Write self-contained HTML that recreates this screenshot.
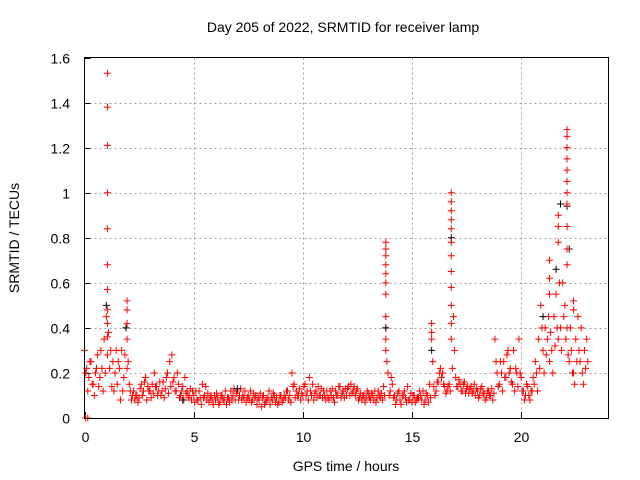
<!DOCTYPE html>
<html><head><meta charset="utf-8"><style>
body{margin:0;background:#fff;}
svg{display:block;font-family:"Liberation Sans",Arial,sans-serif;}
</style></head><body>
<svg id="chart" width="640" height="480" viewBox="0 0 640 480">
<rect x="0" y="0" width="640" height="480" fill="#fff"/>
<text x="343" y="32" font-size="14" text-anchor="middle">Day 205 of 2022, SRMTID for receiver lamp</text>
<text x="346" y="471" font-size="14" text-anchor="middle">GPS time / hours</text>
<text transform="translate(19,238) rotate(-90)" font-size="14" text-anchor="middle">SRMTID / TECUs</text>
<g id="grid"></g>
<g id="ticks"></g>
<g id="marks"></g>
<rect x="84.5" y="57.5" width="524" height="361" fill="none" stroke="#000" stroke-width="1"/>
</svg>
<script>
const xTicks=[0,5,10,15,20];
const yTicks=[0,0.2,0.4,0.6,0.8,1,1.2,1.4,1.6];
const yTickLabels=["0","0.2","0.4","0.6","0.8","1","1.2","1.4","1.6"];
const baseStart=0, baseStep=0.1;
const baseA=[.30,.22,.18,.25,.15,.20,.28,.18,.22,.35,
.45,.38,.30,.25,.20,.15,.22,.30,.18,.40,
.25,.12,.10,.08,.10,.09,.15,.12,.18,.14,
.12,.15,.20,.14,.12,.10,.16,.13,.20,.25,
.28,.18,.12,.15,.10,.14,.18,.12,.10,.08,
.10,.12,.08,.09,.15,.10,.08,.07,.10,.06,
.08,.09,.07,.10,.08,.06,.09,.12,.10,.08,
.12,.10,.08,.09,.07,.10,.12,.08,.09,.06,
.08,.05,.10,.07,.09,.06,.08,.10,.09,.07,
.10,.08,.09,.12,.10,.20,.15,.12,.10,.08,
.10,.15,.12,.18,.10,.08,.12,.14,.10,.09,
.10,.12,.08,.10,.09,.12,.10,.14,.11,.09,
.10,.14,.15,.12,.10,.13,.09,.08,.10,.09,
.11,.08,.10,.12,.09,.10,.11,.14,.40,.20,
.12,.15,.10,.08,.12,.06,.10,.09,.14,.08,
.07,.10,.08,.09,.10,.12,.08,.10,.15,.35,
.14,.12,.16,.22,.20,.14,.12,.15,.35,.45,
.18,.14,.15,.12,.16,.13,.11,.14,.12,.10,
.12,.10,.14,.11,.09,.12,.10,.08,.35,.20,
.15,.20,.25,.18,.30,.22,.15,.12,.20,.35,
.18,.12,.10,.14,.08,.12,.15,.20,.35,.50,
.30,.40,.35,.25,.30,.45,.55,.35,.40,.60,
.50,.40,.25,.30,.20,.35,.45,.25,.20,.30,.35];
const baseB=[.20,.12,.25,.15,.10,.22,.14,.30,.12,.20,
.28,.22,.14,.12,.30,.25,.08,.12,.28,.22,
.15,.08,.12,.10,.07,.13,.10,.16,.08,.12,
.09,.11,.14,.10,.16,.12,.09,.18,.11,.14,
.16,.12,.20,.09,.12,.08,.11,.09,.13,.12,
.07,.08,.12,.06,.09,.14,.11,.09,.08,.10,
.11,.06,.10,.08,.12,.09,.07,.08,.13,.11,
.08,.13,.10,.12,.09,.08,.07,.11,.10,.09,
.11,.09,.06,.08,.12,.09,.11,.07,.06,.10,
.07,.10,.12,.08,.07,.14,.09,.10,.13,.11,
.14,.10,.08,.12,.15,.11,.09,.10,.13,.12,
.08,.09,.12,.13,.07,.10,.14,.09,.12,.13,
.13,.10,.11,.14,.12,.08,.11,.10,.07,.12,
.09,.11,.08,.07,.12,.09,.08,.10,.25,.10,
.18,.09,.06,.11,.08,.10,.12,.07,.08,.11,
.10,.07,.09,.12,.08,.06,.11,.07,.09,.25,
.10,.16,.20,.18,.15,.11,.14,.12,.22,.30,
.14,.17,.12,.15,.11,.14,.13,.11,.15,.13,
.09,.13,.11,.08,.12,.10,.13,.11,.25,.14,
.25,.12,.18,.28,.20,.16,.30,.22,.14,.20,
.12,.08,.15,.10,.12,.18,.25,.12,.22,.40,
.20,.28,.45,.38,.20,.32,.40,.60,.30,.45,
.35,.28,.40,.20,.15,.25,.30,.40,.15,.22,.25];
const spikeTimes=[1.05,1.05,1.05,1.05,1.05,1.05,1.05,1.05,1.05,1.05,
1.95,1.95,1.95,1.95,
13.8,13.8,13.8,13.8,13.8,13.8,13.8,13.8,13.8,13.8,
16.8,16.8,16.8,16.8,16.8,16.8,16.8,16.8,16.8,16.8,16.8,
21.3,21.3,21.3,21.7,21.7,21.7,
22.1,22.1,22.1,22.1,22.1,22.1,22.1,22.1,22.1,22.1,22.1,
22.4,22.4,0.05,0.15,15.9,15.9];
const spikeValues=[1.53,1.38,1.21,1.0,0.84,0.68,0.57,0.48,0.42,0.36,
0.52,0.48,0.42,0.35,
0.78,0.75,0.72,0.68,0.64,0.60,0.55,0.45,0.35,0.30,
1.0,0.96,0.92,0.88,0.84,0.78,0.72,0.65,0.58,0.50,0.42,
0.70,0.62,0.55,0.90,0.85,0.78,
1.28,1.25,1.20,1.15,1.10,1.05,1.00,0.95,0.85,0.75,0.68,
0.52,0.48,0.0,0.0,0.42,0.38];
const blackTimes=[1.0,1.9,13.8,16.8,15.9,21.8,22.1,21.6,22.2,7.0,4.5,21.0];
const blackValues=[0.50,0.40,0.40,0.80,0.30,0.95,0.94,0.66,0.75,0.13,0.08,0.45];

const X0=84.5,X1=608.5,Y0=418,Y1=57.5;
const xScale=t=>X0+(t/24)*(X1-X0);
const yScale=v=>Y0-(v/1.6)*(Y0-Y1);
const NS="http://www.w3.org/2000/svg";
const grid=document.getElementById('grid'),ticks=document.getElementById('ticks'),marks=document.getElementById('marks');
function mk(tag,attrs,parent){const e=document.createElementNS(NS,tag);for(const k in attrs)e.setAttribute(k,attrs[k]);parent.appendChild(e);return e;}
xTicks.forEach(t=>{
  const x=Math.round(xScale(t))+0.5;
  if(t>0){const g=mk('line',{x1:x,x2:x,y1:Y1,y2:Y0,stroke:'#a0a0a0','stroke-dasharray':'2,3'},grid);
  
  }
  const tl=mk('line',{x1:x,x2:x,y1:Y0,y2:Y0-6,stroke:'#000'},ticks);
  
  
  const tx=mk('text',{x:x,y:442,'font-size':14,'text-anchor':'middle'},ticks);
  tx.textContent=String(t);
  
  
});
yTicks.forEach((v,i)=>{
  const y=Math.round(yScale(v))+0.5;
  if(i>0&&i<yTicks.length-1){const g=mk('line',{x1:X0,x2:X1,y1:y,y2:y,stroke:'#a0a0a0','stroke-dasharray':'2,3'},grid);
  
  }
  const tl=mk('line',{x1:X0,x2:X0+6,y1:y,y2:y,stroke:'#000'},ticks);
  
  
  const tx=mk('text',{x:70,y:y+5,'font-size':14,'text-anchor':'end'},ticks);
  tx.textContent=yTickLabels[i];
  
  
});
function plus(t,v,color,name){
  const x=xScale(t),y=yScale(v);
  const p=mk('path',{d:`M${x-3.5},${y}H${x+3.5}M${x},${y-3.5}V${y+3.5}`,stroke:color,'stroke-width':1,fill:'none'},marks);
  
  
}
baseA.forEach((v,i)=>plus(baseStart+i*baseStep,v,'#ff0000','red-point'));
baseB.forEach((v,i)=>plus(baseStart+i*baseStep+0.05,v,'#ff0000','red-point'));
blackValues.forEach((v,i)=>plus(blackTimes[i],v,'#000000','black-point'));
spikeValues.forEach((v,i)=>plus(spikeTimes[i],v,'#ff0000','red-point'));
</script>
</body></html>
